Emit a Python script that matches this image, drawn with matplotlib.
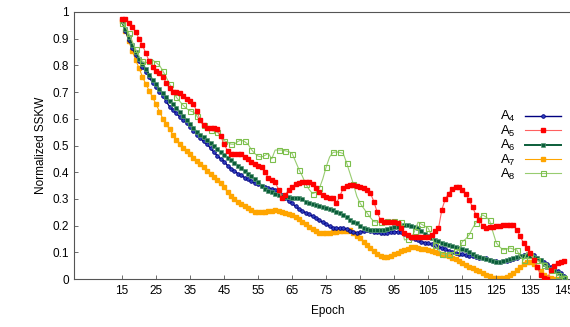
import numpy as np
from matplotlib import pyplot as plt

plt.rcParams['font.family'] = ['Liberation Sans', 'DejaVu Sans']

# epochs 15..145, one value per epoch
epochs = np.arange(15, 146)

a4 = [.965, .93, .895, .865, .84, .815, .795, .775, .755, .735,
      .72, .70, .685, .665, .645, .632, .62, .607, .595, .584,
      .57, .555, .54, .527, .515, .505, .49, .475, .462, .45,
      .44, .425, .413, .405, .395, .388, .38, .373, .366, .36,
      .355, .35, .345, .34, .337, .333, .325, .315, .303, .292,
      .283, .272, .262, .255, .248, .242, .235, .228, .22, .212,
      .205, .197, .19, .19, .19, .19, .188, .18, .175, .172,
      .175, .18, .183, .18, .177, .175, .172, .172, .174, .176,
      .177, .177, .176, .17, .163, .155, .15, .145, .14, .136,
      .133, .13, .126, .121, .117, .112, .106, .10, .097, .095,
      .092, .09, .088, .086, .083, .08, .079, .077, .073, .069,
      .066, .064, .066, .068, .071, .075, .08, .085, .09, .094,
      .097, .09, .08, .071, .063, .055, .046, .038, .03, .022,
      .012]

a5 = [.975, .972, .96, .945, .925, .90, .876, .845, .815, .795,
      .78, .77, .757, .735, .715, .70, .70, .695, .685, .675,
      .668, .655, .628, .595, .575, .566, .566, .566, .56, .535,
      .505, .48, .47, .47, .47, .468, .458, .448, .44, .432,
      .425, .418, .40, .38, .37, .363, .335, .305, .315, .335,
      .345, .355, .36, .362, .363, .363, .355, .34, .325, .315,
      .308, .305, .302, .285, .31, .34, .348, .352, .352, .348,
      .344, .34, .335, .322, .29, .25, .22, .213, .213, .213,
      .212, .21, .19, .172, .165, .158, .157, .157, .157, .157,
      .158, .165, .178, .19, .26, .30, .32, .338, .345, .343,
      .335, .318, .296, .27, .24, .22, .20, .19, .193, .195,
      .198, .20, .202, .202, .202, .202, .185, .16, .135, .115,
      .097, .07, .046, .015, .002, 0, .034, .05, .06, .065,
      .066]

a6 = [.965, .935, .905, .875, .85, .825, .805, .785, .765, .745,
      .73, .71, .695, .68, .665, .655, .64, .625, .61, .595,
      .58, .565, .55, .54, .53, .52, .51, .498, .486, .474,
      .465, .455, .445, .435, .425, .415, .405, .395, .385, .375,
      .363, .35, .338, .33, .324, .32, .316, .312, .308, .306,
      .305, .304, .303, .298, .29, .284, .28, .277, .274, .27,
      .266, .262, .258, .252, .246, .24, .232, .222, .214, .208,
      .198, .19, .187, .185, .184, .183, .183, .185, .188, .191,
      .194, .196, .199, .201, .202, .20, .196, .19, .18, .168,
      .16, .153, .147, .141, .135, .131, .127, .123, .12, .116,
      .112, .107, .10, .094, .088, .082, .078, .074, .07, .067,
      .065, .064, .067, .071, .075, .079, .082, .086, .088, .09,
      .088, .083, .079, .07, .058, .046, .038, .03, .022, .015,
      .008]

a7 = [.965, .93, .89, .855, .82, .79, .757, .73, .705, .68,
      .655, .627, .60, .58, .56, .54, .52, .505, .49, .478,
      .467, .455, .443, .43, .418, .405, .393, .382, .372, .36,
      .345, .325, .312, .30, .29, .281, .273, .266, .258, .252,
      .25, .25, .252, .253, .255, .258, .256, .252, .248, .243,
      .238, .233, .225, .215, .205, .195, .186, .178, .174, .172,
      .172, .173, .175, .177, .178, .178, .18, .182, .172, .16,
      .152, .14, .127, .116, .105, .094, .086, .084, .082, .087,
      .093, .098, .103, .109, .114, .118, .12, .117, .114, .111,
      .108, .105, .102, .099, .095, .09, .085, .08, .074, .068,
      .06, .052, .046, .04, .035, .03, .022, .015, .01, .005,
      .003, .002, .003, .008, .014, .022, .032, .045, .056, .063,
      .065, .058, .045, .03, .016, .008, .003, .001, 0, 0,
      0]

a8 = [.96, .945, .92, .89, .86, .835, .815, .81, .815, .82,
      .81, .80, .78, .755, .73, .705, .68, .665, .65, .638,
      .63, .625, .61, .59, .575, .565, .558, .555, .55, .535,
      .518, .513, .505, .505, .515, .52, .515, .505, .485, .47,
      .46, .457, .463, .47, .45, .483, .483, .483, .48, .477,
      .47, .44, .41, .385, .355, .335, .32, .325, .34, .375,
      .42, .457, .474, .476, .474, .47, .435, .395, .355, .31,
      .283, .265, .247, .23, .215, .213, .213, .213, .216, .22,
      .217, .213, .213, .146, .15, .153, .18, .213, .205, .198,
      .19, .16, .127, .11, .093, .09, .094, .097, .103, .109,
      .14, .15, .165, .19, .21, .228, .24, .232, .22, .176,
      .135, .12, .109, .112, .116, .112, .109, .085, .071, .10,
      .09, .079, .07, .06, .052, .043, .034, .025, .016, .008,
      .004]

labels = ['A$_\\mathregular{4}$', 'A$_\\mathregular{5}$', 'A$_\\mathregular{6}$',
          'A$_\\mathregular{7}$', 'A$_\\mathregular{8}$']
xticks = np.arange(15, 146, 10)
yticks = np.arange(0, 1.01, 0.1)

fig = plt.figure(figsize=(5.7, 3.27), dpi=100)
ax = fig.add_axes([74.4/570, 48/327, 507/570, 267/327])

h4, = ax.plot(epochs, a4, color='#000080', lw=1.0, marker='o', ms=2.6,
              mfc='#3040c0', mec='#000080', mew=0.6, zorder=2)
h6, = ax.plot(epochs, a6, color='#0b5e3a', lw=1.4, marker='s', ms=3.0,
              mfc='#0b5e3a', mec='#5a9a78', mew=0.5, zorder=3)
h7, = ax.plot(epochs, a7, color='#ffa500', lw=0.8, marker='s', ms=3.0,
              mfc='#ffa500', mec='#ffa500', zorder=1)
h8, = ax.plot(epochs, a8, color='#98cc70', lw=0.8, marker='s', ms=3.6,
              mfc='none', mec='#7cbf4c', mew=0.8, markevery=2, zorder=4)
h5, = ax.plot(epochs, a5, color='#ff6060', lw=0.8, marker='s', ms=3.0,
              mfc='#ff0000', mec='#ff0000', zorder=5)

ax.set_xlim(1, 150)
ax.set_ylim(0, 1)
ax.set_xticks(xticks)
ax.set_yticks(yticks)
ax.set_yticklabels(['0', '0.1', '0.2', '0.3', '0.4', '0.5', '0.6', '0.7', '0.8', '0.9', '1'])
ax.tick_params(direction='in', length=3, width=0.6, color='#555555', labelsize=8.5, pad=4)
for s in ax.spines.values():
    s.set_color('#555555')
    s.set_linewidth(0.8)

ax.set_xlabel('Epoch', fontsize=8.5, labelpad=6)
ax.set_ylabel('Normalized SSKW', fontsize=8.5, labelpad=4)

leg = ax.legend([h4, h5, h6, h7, h8], labels, loc='upper right',
                bbox_to_anchor=((566-74.4)/507, 1 - (104-12)/267),
                frameon=False, markerfirst=False, numpoints=1, fontsize=9.5,
                handlelength=2.7, handletextpad=0.7, labelspacing=-0.05,
                borderaxespad=0)

fig.savefig('out.png', dpi=100)
